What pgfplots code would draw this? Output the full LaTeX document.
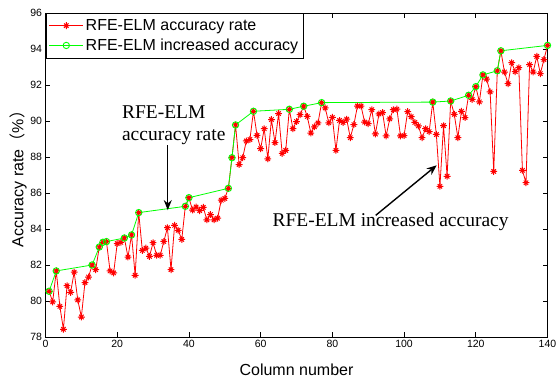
\documentclass[border=0pt]{standalone}
\usepackage{pgfplots}
\pgfplotsset{compat=1.18}
\usepackage{fontspec}
\setmainfont{Liberation Sans}
\newfontfamily\seriffont{Liberation Serif}
\newfontfamily\cjk{Noto Sans CJK SC}
\usetikzlibrary{arrows.meta}

\pgfdeclareplotmark{mstar}{%
  \pgfpathmoveto{\pgfqpoint{-\pgfplotmarksize}{0pt}}\pgfpathlineto{\pgfqpoint{\pgfplotmarksize}{0pt}}%
  \pgfpathmoveto{\pgfqpoint{0pt}{-\pgfplotmarksize}}\pgfpathlineto{\pgfqpoint{0pt}{\pgfplotmarksize}}%
  \pgfpathmoveto{\pgfqpoint{-0.65\pgfplotmarksize}{-0.65\pgfplotmarksize}}\pgfpathlineto{\pgfqpoint{0.65\pgfplotmarksize}{0.65\pgfplotmarksize}}%
  \pgfpathmoveto{\pgfqpoint{-0.65\pgfplotmarksize}{0.65\pgfplotmarksize}}\pgfpathlineto{\pgfqpoint{0.65\pgfplotmarksize}{-0.65\pgfplotmarksize}}%
  \pgfusepathqstroke}

\pgfplotstableread{
x y
1 80.54
2 79.95
3 81.67
4 79.70
5 78.43
6 80.85
7 80.48
8 81.60
9 80.06
10 79.11
11 81.02
12 81.33
13 82.00
14 81.74
15 83.00
16 83.26
17 83.30
18 81.67
19 81.56
20 83.19
21 83.26
22 83.50
23 82.44
24 83.67
25 81.43
26 84.91
27 82.81
28 82.94
29 82.48
30 83.24
31 82.54
32 82.54
33 83.31
34 84.07
35 81.74
36 84.20
37 83.93
38 83.42
39 85.26
40 85.74
41 85.05
42 85.22
43 85.02
44 85.20
45 84.51
46 84.80
47 84.51
48 84.60
49 85.60
50 85.70
51 86.26
52 87.96
53 89.78
54 87.58
55 87.96
56 88.89
57 88.97
58 90.54
59 89.20
60 88.46
61 89.57
62 87.90
63 90.08
64 88.80
65 90.41
66 88.20
67 88.37
68 90.65
69 89.57
70 89.97
71 90.35
72 90.82
73 90.25
74 89.33
75 89.68
76 89.89
77 91.02
78 90.73
79 89.90
80 90.20
81 88.37
82 90.03
83 89.92
84 90.10
85 89.07
86 89.80
87 90.83
88 90.83
89 89.94
90 89.85
91 90.63
92 89.28
93 90.39
94 90.47
95 89.17
96 90.12
97 90.63
98 90.66
99 89.17
100 89.19
101 90.52
102 90.24
103 89.92
104 89.73
105 89.07
106 89.57
107 89.41
108 91.05
109 89.25
110 86.37
111 89.74
112 86.93
113 91.11
114 90.37
115 89.07
116 90.54
117 90.19
118 91.43
119 91.20
120 91.91
121 91.06
122 92.56
123 92.33
124 91.62
125 87.20
126 92.79
127 93.90
128 92.72
129 92.07
130 93.24
131 92.74
132 92.96
133 87.26
134 86.57
135 93.13
136 92.72
137 93.59
138 92.63
139 93.41
140 94.20
}\acc

\pgfplotstableread{
x y
1 80.54
3 81.67
13 82.00
15 83.00
16 83.26
17 83.30
22 83.50
24 83.67
26 84.91
39 85.26
40 85.74
51 86.26
52 87.96
53 89.78
58 90.54
68 90.65
72 90.82
77 91.02
108 91.05
113 91.11
118 91.43
120 91.91
122 92.56
126 92.79
127 93.90
140 94.20
}\inc

\begin{document}
\begin{tikzpicture}
\begin{axis}[
  name=ax,
  scale only axis,
  width=502pt, height=324pt,
  xmin=0, xmax=140, ymin=78, ymax=96,
  xtick={0,20,...,140}, ytick={78,80,...,96},
  tick align=inside, major tick length=5pt,
  axis line style={line width=0.9pt},
  every tick/.style={black, line width=0.8pt},
  /pgf/number format/assume math mode=true,
  tick label style={font=\fontsize{10.5}{12}\selectfont},
  xlabel={Column number},
  ylabel={Accuracy rate{\cjk（}\%{\cjk）}},
  label style={font=\fontsize{16}{19}\selectfont},
  xlabel style={at={(axis description cs:0.5,-0.102)}, anchor=center},
  ylabel style={at={(axis description cs:-0.0546,0.5)}, anchor=center},
  legend image code/.code={\draw[mark repeat=2,mark phase=2,#1] plot coordinates {(0pt,0pt) (17pt,0pt) (34pt,0pt)};},
  legend style={at={(0,1)}, anchor=north west, draw=black, line width=0.8pt,
    font=\fontsize{16}{19}\selectfont, inner xsep=3pt, inner ysep=4pt, row sep=3pt,
    cells={anchor=west}},
]
\addplot[color=red, line width=0.8pt, mark=mstar, mark size=3.4pt, mark options={line width=1pt}] table[x=x,y=y] {\acc};
\addlegendentry{RFE-ELM accuracy rate}
\addplot[color=green, line width=0.8pt, mark=o, mark size=3.2pt, mark options={line width=0.9pt}] table[x=x,y=y] {\inc};
\addlegendentry{RFE-ELM increased accuracy}

\node[anchor=base west, inner sep=0pt, font=\seriffont\fontsize{19.5}{22}\selectfont] at (axis cs:21.3,90.13) {RFE-ELM};
\node[anchor=base west, inner sep=0pt, font=\seriffont\fontsize{19.5}{22}\selectfont] at (axis cs:21.3,88.89) {accuracy rate};
\draw[-{Stealth[length=10pt,width=8pt]}, line width=1.4pt] (axis cs:34.1,88.65) -- (axis cs:34.1,85.05);
\node[anchor=base west, inner sep=0pt, font=\seriffont\fontsize{19.5}{22}\selectfont] at (axis cs:63.25,84.15) {RFE-ELM increased accuracy};
\draw[-{Stealth[length=10pt,width=8pt]}, line width=1.4pt] (axis cs:92.1,84.76) -- (axis cs:109.1,87.54);
\end{axis}
\path (ax.south west) ++(-45.5pt,-44pt) coordinate (bl);
\path (ax.north east) ++(8.5pt,13pt) coordinate (tr);
\pgfresetboundingbox
\path (bl) rectangle (tr);
\end{tikzpicture}
\end{document}
